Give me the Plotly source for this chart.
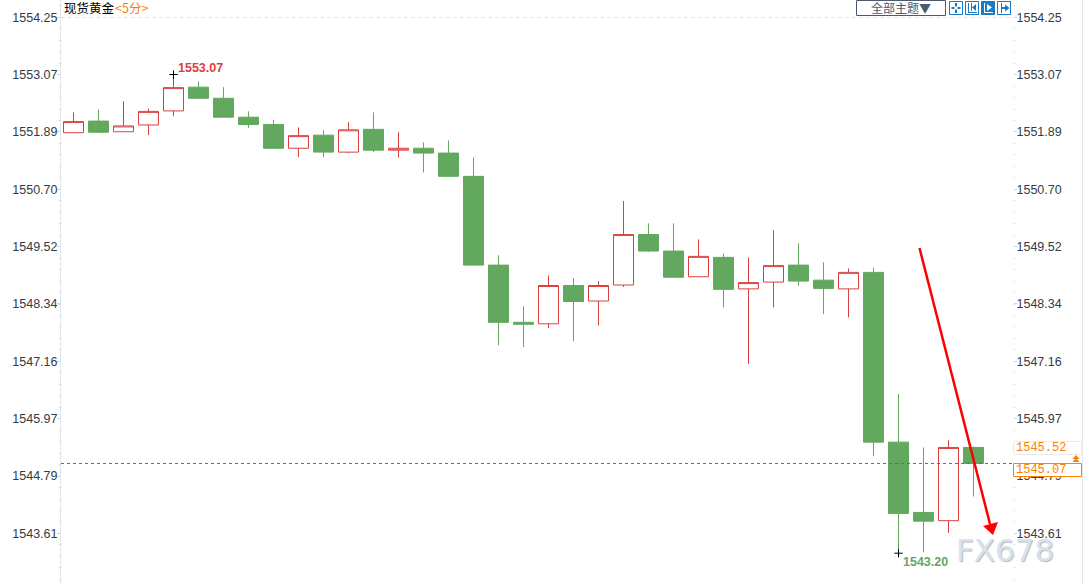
import plotly.graph_objects as go

W, H = 1084, 585

# Prices
opens = [1551.87, 1552.11, 1551.89, 1552.03, 1552.32, 1552.81, 1552.58, 1552.19, 1552.04, 1551.55, 1551.82, 1551.47, 1551.94,
         1551.51, 1551.55, 1551.45, 1550.97, 1549.14, 1547.96, 1547.93, 1548.72, 1548.40, 1548.73, 1549.77, 1549.43,
         1548.90, 1549.30, 1548.65, 1548.79, 1549.14, 1548.83, 1548.65, 1548.99, 1545.49, 1544.04, 1543.87, 1545.38]
closes = [1552.10, 1551.88, 1552.01, 1552.31, 1552.80, 1552.58, 1552.19, 1552.04, 1551.55, 1551.81, 1551.47, 1551.93, 1551.51,
          1551.55, 1551.45, 1550.97, 1549.14, 1547.96, 1547.92, 1548.72, 1548.39, 1548.72, 1549.77, 1549.43, 1548.89,
          1549.32, 1548.64, 1548.78, 1549.13, 1548.81, 1548.66, 1548.99, 1545.49, 1544.02, 1543.86, 1545.38, 1545.05]
highs = [1552.29, 1552.35, 1552.52, 1552.37, 1553.07, 1552.93, 1552.81, 1552.31, 1552.13, 1551.98, 1551.92, 1552.09, 1552.29,
         1551.88, 1551.67, 1551.71, 1551.36, 1549.34, 1548.29, 1548.93, 1548.87, 1548.81, 1550.46, 1550.00, 1550.00,
         1549.67, 1549.38, 1549.30, 1549.86, 1549.59, 1549.20, 1549.07, 1549.09, 1546.48, 1545.38, 1545.53, 1545.40]
lows = [1551.87, 1551.88, 1551.89, 1551.82, 1552.21, 1552.58, 1552.19, 1551.97, 1551.55, 1551.37, 1551.37, 1551.45, 1551.47,
        1551.36, 1551.05, 1550.97, 1549.14, 1547.49, 1547.45, 1547.84, 1547.57, 1547.90, 1548.69, 1549.41, 1548.89,
        1548.90, 1548.27, 1547.10, 1548.27, 1548.72, 1548.13, 1548.06, 1545.20, 1543.20, 1543.22, 1543.62, 1544.37]
tick_labels = ["1554.25", "1553.07", "1551.89", "1550.70", "1549.52", "1548.34", "1547.16", "1545.97", "1544.79", "1543.61"]
tick_values = [1554.25, 1553.07, 1551.89, 1550.70, 1549.52, 1548.34, 1547.16, 1545.97, 1544.79, 1543.61]
last_line = 1545.05
last_label = "1545.07"
prev_label = "1545.52"
positions = list(range(len(opens)))
hi_idx, lo_idx = 4, 33

RED, GREEN, ORANGE, BLUE = "#DB4040", "#62A85E", "#FF8000", "#1A7BC4"
FONT = "Liberation Sans, Arial, sans-serif"
PALE = "#DFE6EE"

# pixel helpers for page furniture
px = lambda x: x / W
py = lambda y: 1 - y / H
y_range = [1554.25 - 567.7 * 0.02062, 1554.25 + 17.3 * 0.02062]
x_range = [(61 - 73.5) / 25, (1013 - 73.5) / 25]

fig = go.Figure()
fig.add_trace(go.Candlestick(
    x=positions, open=opens, high=highs, low=lows, close=closes, whiskerwidth=0, hoverinfo="skip",
    increasing=dict(line=dict(color=RED, width=1), fillcolor="#FFFFFF"),
    decreasing=dict(line=dict(color=GREEN, width=1), fillcolor=GREEN),
    showlegend=False))
fig.add_trace(go.Scatter(
    x=x_range, y=[last_line, last_line], yaxis="y2", mode="lines", hoverinfo="skip", showlegend=False,
    line=dict(color="#1C7CE0", width=1, dash="3px,3px")))
fig.add_trace(go.Scatter(
    x=[positions[hi_idx], positions[lo_idx]], y=[highs[hi_idx], lows[lo_idx]], mode="markers", hoverinfo="skip",
    showlegend=False, marker=dict(symbol="cross-thin", size=6, line=dict(color="#000000", width=1))))

axis_common = dict(
    range=y_range, tickmode="array", tickvals=tick_values, ticktext=tick_labels, ticks="outside", ticklen=3,
    tickcolor="#C9D3DE", tickwidth=1, showgrid=False, zeroline=False, ticklabelstandoff=-3,
    tickfont=dict(family=FONT, size=12.5, color="#333B47"),
    minor=dict(ticks="outside", tick0=1554.25, dtick=0.2365, ticklen=1, tickcolor="#C4CAD0", showgrid=False))

fig.update_layout(
    width=W, height=H, margin=dict(l=0, r=0, t=0, b=0), paper_bgcolor="#FFFFFF", plot_bgcolor="#FFFFFF",
    boxgap=0.2, boxgroupgap=0, showlegend=False, hovermode=False,
    xaxis=dict(domain=[px(61), px(1013)], range=x_range, visible=False, rangeslider=dict(visible=False)),
    yaxis=dict(domain=[0, 1], side="left", anchor="x", showline=True, linecolor=PALE, linewidth=1, **axis_common),
    yaxis2=dict(domain=[0, 1], side="right", anchor="x", overlaying="y", showline=False, **axis_common),
)

shapes = []
def rect(x0, y0, x1, y1, line=None, fill=None, w=1):
    shapes.append(dict(type="rect", xref="paper", yref="paper", x0=px(x0), x1=px(x1), y0=py(y0), y1=py(y1),
                       line=dict(color=line or "rgba(0,0,0,0)", width=w if line else 0), fillcolor=fill or "rgba(0,0,0,0)", layer="above"))
def seg(x0, y0, x1, y1, color, w=1, dash=None, layer="above"):
    shapes.append(dict(type="line", xref="paper", yref="paper", x0=px(x0), x1=px(x1), y0=py(y0), y1=py(y1),
                       line=dict(color=color, width=w, dash=dash or "solid"), layer=layer))
def tri(points, color):
    path = "M " + " L ".join(f"{px(x)},{py(y)}" for x, y in points) + " Z"
    shapes.append(dict(type="path", xref="paper", yref="paper", path=path, fillcolor=color, line=dict(width=0), layer="above"))

# top pale dashed line and far-right rule
seg(61, 17.5, 1013, 17.5, "#E6E6E6", 1, "4px,3px", "below")
seg(1082.5, 0, 1082.5, 585, "#E4E8EE", 1, None, "below")

# red arrow
seg(919.5, 248, 990, 524, "#FF0000", 2.5)
tri([(993, 535), (983, 526), (998, 522)], "#FF0000")

# price boxes
rect(1013.5, 441.5, 1081.5, 454.5, line="#E6EBF0", fill="#FFFFFF")
rect(1013.5, 463.5, 1081.5, 476.5, line=ORANGE, fill="#FFFFFF")
tri([(1076, 455), (1072.5, 459), (1079.5, 459)], ORANGE)
tri([(1076, 458), (1072.5, 462), (1079.5, 462)], ORANGE)

# toolbar
rect(856.5, 0.5, 945.5, 15.5, line="#4A5A70", fill="#FFFFFF")
rect(949.5, 1.5, 962.5, 14.5, line=BLUE, fill="#FFFFFF")
seg(956, 3, 956, 6.5, BLUE, 2); seg(956, 9.5, 956, 13, BLUE, 2)
seg(951.5, 8, 954.5, 8, BLUE, 2); seg(957.5, 8, 960.5, 8, BLUE, 2)
rect(965.5, 1.5, 978.5, 14.5, line=BLUE, fill="#FFFFFF")
seg(968.5, 3, 968.5, 13, BLUE, 1); seg(968, 12.5, 977, 12.5, BLUE, 1); seg(971.5, 3, 971.5, 11, BLUE, 1)
tri([(972, 7.5), (976, 4), (976, 11)], BLUE)
rect(981.5, 1.5, 994.5, 14.5, line=BLUE, fill=BLUE)
seg(984.5, 3, 984.5, 13, "#FFFFFF", 1); seg(984, 12.5, 993, 12.5, "#FFFFFF", 1)
tri([(992, 7.5), (987, 4), (987, 11)], "#FFFFFF")
rect(997.5, 1.5, 1010.5, 14.5, line=BLUE, fill="#FFFFFF")
seg(1001.5, 3, 1001.5, 13, BLUE, 1); seg(1002, 8, 1006, 8, BLUE, 2)
tri([(1009.5, 8), (1005, 4.5), (1005, 11.5)], BLUE)

fig.update_layout(shapes=shapes)

def note(x, y, text, color, size=12, family=FONT, anchor="left", **kw):
    fig.add_annotation(xref="paper", yref="paper", x=px(x), y=py(y), text=text, showarrow=False, xanchor=anchor,
                       yanchor="middle", align="left", borderpad=0, font=dict(family=family, size=size, color=color, **kw))

CJK = "Noto Sans CJK SC, sans-serif"
note(63, 7.5, "现货黄金", "#000000", 12.5, CJK)
note(114, 7.5, "&lt;5分&gt;", ORANGE, 12.5, CJK)
note(900.5, 8, "全部主题▼", "#4A5A70", 12, CJK, anchor="center")
note(177, 68, "<b>1553.07</b>", RED, 12.5)
note(902, 562, "<b>1543.20</b>", GREEN, 12.5)
note(1015, 448, prev_label, ORANGE, 12, "Liberation Mono, monospace")
note(1015, 470, last_label, ORANGE, 12, "Liberation Mono, monospace")
note(955, 549.5, "FX678", "#D6E2F0", 31, "DejaVu Sans, sans-serif", shadow="1px 1px 1px #B8B8B8")

fig.write_html("out.html", config=dict(displayModeBar=False),
               post_script="document.body.style.margin='0';document.documentElement.style.overflow='hidden';")
